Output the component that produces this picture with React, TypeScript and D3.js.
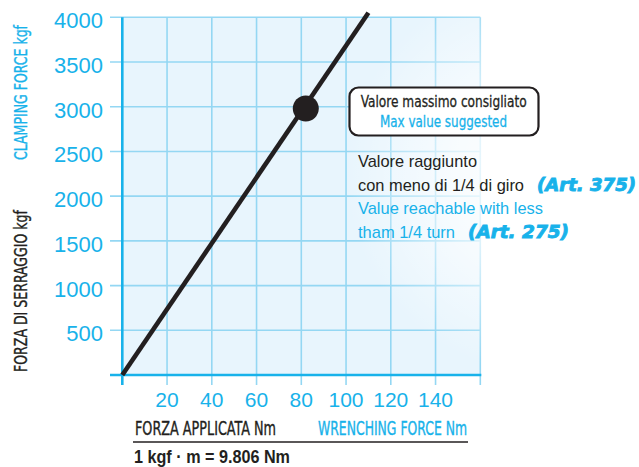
import React from "react";
import * as d3 from "d3";

const W = 639;
const H = 467;

const xTicks = [20, 40, 60, 80, 100, 120, 140];
const xGrid = [20, 40, 60, 80, 100, 120, 140, 160];
const yTicks = [500, 1000, 1500, 2000, 2500, 3000, 3500, 4000];
const yTickLabels = ["500", "1000", "1500", "2000", "2500", "3000", "3500", "4000"];
const lineX = [0, 110];
const lineY = [0, 4050];
const maxPointX = [82];
const maxPointY = [2980];

const CYAN = "#18b2ea";
const GRID = "#94d7f3";
const DARK = "#231f20";
const NARROW = "'Liberation Sans Narrow', 'DejaVu Sans Condensed', 'Liberation Sans', sans-serif";
const SANS = "'Liberation Sans', Arial, sans-serif";

export default function App() {
  const x = d3.scaleLinear().domain([0, 160]).range([122.3, 480.3]);
  const y = d3.scaleLinear().domain([0, 4000]).range([375, 17.3]);
  const line = d3
    .line<number>()
    .x((d) => x(lineX[d]))
    .y((d) => y(lineY[d]));

  return (
    <svg
      width={W}
      height={H}
      style={{ position: "absolute", left: 0, top: 0, background: "#fff" }}
    >
      <defs>
        <radialGradient id="glow" cx="545" cy="175" r="200" gradientUnits="userSpaceOnUse">
          <stop offset="0" stopColor="#fff" stopOpacity={0.95} />
          <stop offset="0.45" stopColor="#fff" stopOpacity={0.7} />
          <stop offset="1" stopColor="#fff" stopOpacity={0} />
        </radialGradient>
      </defs>
      <rect
        x={x(0)}
        y={y(4000)}
        width={x(160) - x(0)}
        height={y(0) - y(4000)}
        fill="#e8f5fd"
      />
      {yTicks.map((t) => (
        <line
          key={"h" + t}
          x1={110}
          x2={x(160)}
          y1={y(t)}
          y2={y(t)}
          stroke={GRID}
          strokeWidth={1.6}
        />
      ))}
      {xGrid.map((t) => (
        <line
          key={"v" + t}
          x1={x(t)}
          x2={x(t)}
          y1={y(4000)}
          y2={385}
          stroke={GRID}
          strokeWidth={1.6}
        />
      ))}
      <rect x={x(0) + 2} y={0} width={W} height={y(0) - 2} fill="url(#glow)" />
      <line x1={x(0)} x2={x(0)} y1={y(4000)} y2={385} stroke={CYAN} strokeWidth={2.6} />
      <line x1={110} x2={x(160) + 1} y1={y(0)} y2={y(0)} stroke={CYAN} strokeWidth={2.6} />
      {yTicks.map((t, i) => (
        <text
          key={"yl" + t}
          x={103}
          y={y(t) + 11}
          textAnchor="end"
          fontFamily={SANS}
          fontSize={22}
          fill={CYAN}
        >
          {yTickLabels[i]}
        </text>
      ))}
      {xTicks.map((t) => (
        <text
          key={"xl" + t}
          x={x(t)}
          y={406.7}
          textAnchor="middle"
          fontFamily={SANS}
          fontSize={21}
          fill={CYAN}
        >
          {t}
        </text>
      ))}
      <path d={line([0, 1]) || ""} fill="none" stroke={DARK} strokeWidth={4.6} />
      <circle cx={x(maxPointX[0])} cy={y(maxPointY[0])} r={13} fill={DARK} />
      <text
        transform="translate(27,160) rotate(-90)"
        fontFamily={NARROW}
        fontSize={18}
        fill={CYAN}
        stroke={CYAN}
        strokeWidth={0.35}
        textLength={135}
        lengthAdjust="spacingAndGlyphs"
      >
        CLAMPING FORCE kgf
      </text>
      <text
        transform="translate(27,372) rotate(-90)"
        fontFamily={NARROW}
        fontSize={18}
        fill={DARK}
        stroke={DARK}
        strokeWidth={0.35}
        textLength={162}
        lengthAdjust="spacingAndGlyphs"
      >
        FORZA DI SERRAGGIO kgf
      </text>
      <text
        x={135}
        y={435}
        fontFamily={NARROW}
        fontSize={19}
        fill={DARK}
        stroke={DARK}
        strokeWidth={0.35}
        textLength={141}
        lengthAdjust="spacingAndGlyphs"
      >
        FORZA APPLICATA Nm
      </text>
      <text
        x={318}
        y={435}
        fontFamily={NARROW}
        fontSize={19}
        fill={CYAN}
        stroke={CYAN}
        strokeWidth={0.35}
        textLength={149}
        lengthAdjust="spacingAndGlyphs"
      >
        WRENCHING FORCE Nm
      </text>
      <line x1={133} x2={468} y1={442} y2={442} stroke={DARK} strokeWidth={1.4} />
      <text
        x={134}
        y={463.3}
        fontFamily={SANS}
        fontWeight="bold"
        fontSize={18}
        fill={DARK}
        textLength={156}
        lengthAdjust="spacingAndGlyphs"
      >
        1 kgf · m = 9.806 Nm
      </text>
      <rect
        x={349.5}
        y={87.5}
        width={189}
        height={48}
        rx={9}
        fill="#fff"
        stroke={DARK}
        strokeWidth={2.2}
      />
      <text
        x={360.7}
        y={106.7}
        fontFamily={NARROW}
        fontSize={16.5}
        fill={DARK}
        stroke={DARK}
        strokeWidth={0.3}
        textLength={166}
        lengthAdjust="spacingAndGlyphs"
      >
        Valore massimo consigliato
      </text>
      <text
        x={380}
        y={126.7}
        fontFamily={NARROW}
        fontSize={16.5}
        fill={CYAN}
        stroke={CYAN}
        strokeWidth={0.3}
        textLength={127}
        lengthAdjust="spacingAndGlyphs"
      >
        Max value suggested
      </text>
      <text x={358} y={167} fontFamily={SANS} fontSize={17} fill={DARK} textLength={119} lengthAdjust="spacingAndGlyphs">
        Valore raggiunto
      </text>
      <text x={358} y={190.7} fontFamily={SANS} fontSize={17} fill={DARK} textLength={166} lengthAdjust="spacingAndGlyphs">
        con meno di 1/4 di giro
      </text>
      <text x={358} y={214} fontFamily={SANS} fontSize={17} fill={CYAN} textLength={185} lengthAdjust="spacingAndGlyphs">
        Value reachable with less
      </text>
      <text x={358} y={238} fontFamily={SANS} fontSize={17} fill={CYAN} textLength={97} lengthAdjust="spacingAndGlyphs">
        tham 1/4 turn
      </text>
      <text
        x={537}
        y={190.7}
        fontFamily="'DejaVu Sans', sans-serif"
        fontWeight="bold"
        fontStyle="italic"
        fontSize={17}
        fill={CYAN}
        stroke={CYAN}
        strokeWidth={0.9}
        textLength={99}
        lengthAdjust="spacingAndGlyphs"
      >
        (Art. 375)
      </text>
      <text
        x={468}
        y={238}
        fontFamily="'DejaVu Sans', sans-serif"
        fontWeight="bold"
        fontStyle="italic"
        fontSize={17}
        fill={CYAN}
        stroke={CYAN}
        strokeWidth={0.9}
        textLength={101}
        lengthAdjust="spacingAndGlyphs"
      >
        (Art. 275)
      </text>
    </svg>
  );
}
